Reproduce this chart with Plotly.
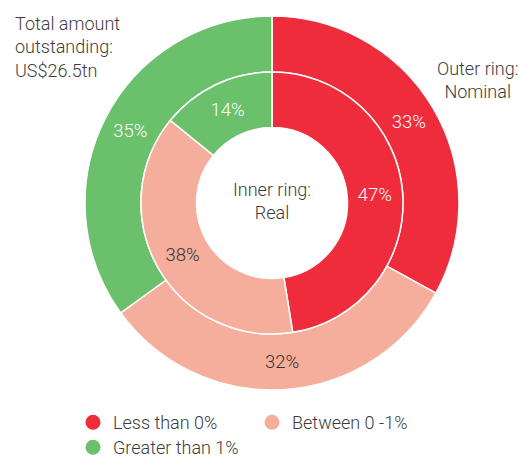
import plotly.graph_objects as go

categories = ["Less than 0%", "Between 0 -1%", "Greater than 1%"]
outer_nominal = [33, 32, 35]
inner_real = [47, 38, 14]
colors = ["#EE2C3C", "#F6AE9C", "#6AC06B"]
label_colors = ["#FFFFFF", "#333333", "#FFFFFF"]
legend_rows = ["legend", "legend", "legend2"]

FONT = "Roboto, Liberation Sans, Arial, sans-serif"
W, H = 525, 458
cx, cy = 272, 203
R_out, R_mid, R_hole = 187, 131, 75.5

def dom(r):
    return dict(x=[(cx - r) / W, (cx + r) / W],
                y=[(H - cy - r) / H, (H - cy + r) / H])

fig = go.Figure()
for vals, r_o, r_i in [(outer_nominal, R_out, R_mid), (inner_real, R_mid, R_hole)]:
    fig.add_trace(go.Pie(
        values=vals, labels=categories, sort=False, direction="clockwise",
        rotation=0, hole=r_i / r_o, domain=dom(r_o),
        marker=dict(colors=colors, line=dict(color="white", width=1.5)),
        texttemplate="%{value}%", textposition="inside", insidetextorientation="horizontal",
        textfont=dict(color=label_colors, size=18.5, family=FONT, weight=300),
        showlegend=False, hoverinfo="skip"))

for name, c, lg in zip(categories, colors, legend_rows):
    fig.add_trace(go.Scatter(x=[None], y=[None], mode="markers", name=name, legend=lg,
                             marker=dict(color=c, size=15, symbol="circle")))

txt = dict(family=FONT, size=18, color="#3C3C3C", weight=300)
fig.add_annotation(x=13 / W, y=1 - 11 / H, xref="paper", yref="paper", xanchor="left", yanchor="top",
                   text="Total amount<br>outstanding:<br>US$26.5tn", showarrow=False, align="left", font=txt)
fig.add_annotation(x=477 / W, y=1 - 56 / H, xref="paper", yref="paper", xanchor="center", yanchor="top",
                   text="Outer ring:<br>Nominal", showarrow=False, align="center", font=txt)
fig.add_annotation(x=cx / W, y=1 - (cy - 2) / H, xref="paper", yref="paper", xanchor="center", yanchor="middle",
                   text="Inner ring:<br>Real", showarrow=False, align="center", font=txt)

leg = dict(orientation="h", xanchor="left", yanchor="top",
           entrywidth=134, entrywidthmode="pixels", itemsizing="trace",
           font=dict(family=FONT, size=18, color="#3C3C3C", weight=300), bgcolor="rgba(0,0,0,0)")
fig.update_layout(
    width=W, height=H, margin=dict(l=0, r=0, t=0, b=0, autoexpand=False),
    paper_bgcolor="white", plot_bgcolor="white",
    xaxis=dict(visible=False), yaxis=dict(visible=False),
    legend=dict(leg, x=73 / W, y=1 - 404 / H),
    legend2=dict(leg, x=73 / W, y=1 - 429 / H),
)
fig.write_html("out.html", config={"displayModeBar": False},
               post_script="document.body.style.margin='0';document.body.style.overflow='hidden';")
